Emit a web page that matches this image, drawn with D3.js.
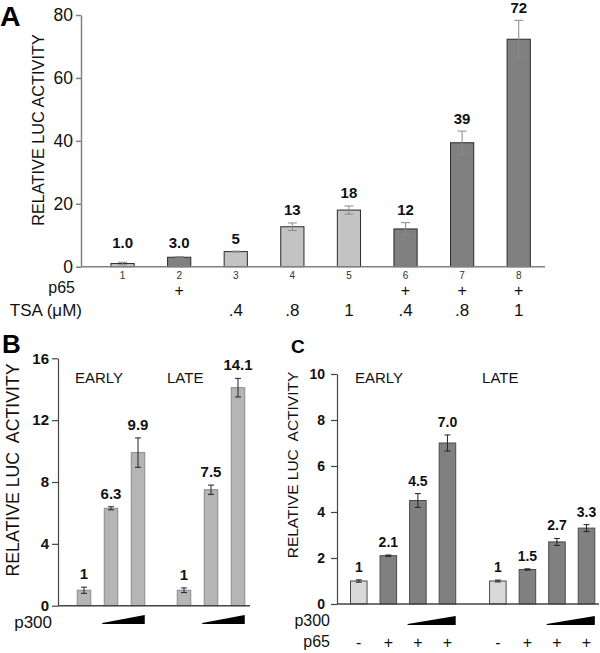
<!DOCTYPE html>
<html>
<head>
<meta charset="utf-8">
<script src="https://cdn.jsdelivr.net/npm/d3@7"></script>
<style>
  body { margin: 0; background: #fff; }
  svg text { font-family: "Liberation Sans", Arial, sans-serif; }
</style>
</head>
<body>
<div class="canvas"></div>
<script>
//------------------------ panel A data
const aCats = ['1', '2', '3', '4', '5', '6', '7', '8'];
const aValues = [1.0, 3.0, 4.8, 12.7, 18.0, 12.0, 39.4, 72.3];
const aErrors = [0.4, 0.2, 0.15, 1.2, 1.3, 2.0, 3.7, 6.0];
const aLabels = ['1.0', '3.0', '5', '13', '18', '12', '39', '72'];
const aP65 = ['', '+', '', '', '', '+', '+', '+'];
const aTSA = ['', '', '.4', '.8', '1', '.4', '.8', '1'];
const aTicks = [0, 20, 40, 60, 80];

//------------------------ panel B data
const groups = ['EARLY', 'LATE'];
const bGroup = ['EARLY', 'EARLY', 'EARLY', 'LATE', 'LATE', 'LATE'];
const bValues = [1, 6.3, 9.9, 1, 7.5, 14.1];
const bErrors = [0.2, 0.1, 0.95, 0.15, 0.3, 0.6];
const bLabels = ['1', '6.3', '9.9', '1', '7.5', '14.1'];
const bP300 = [0, 1, 2, 0, 1, 2];
const bTicks = [0, 4, 8, 12, 16];

//------------------------ panel C data
const cGroup = ['EARLY', 'EARLY', 'EARLY', 'EARLY', 'LATE', 'LATE', 'LATE', 'LATE'];
const cValues = [1, 2.1, 4.5, 7.0, 1, 1.5, 2.7, 3.3];
const cErrors = [0.05, 0.03, 0.3, 0.35, 0.04, 0.03, 0.15, 0.15];
const cLabels = ['1', '2.1', '4.5', '7.0', '1', '1.5', '2.7', '3.3'];
const cP300 = [0, 0, 1, 2, 0, 0, 1, 2];
const cP65 = ['-', '+', '+', '+', '-', '+', '+', '+'];
const cTicks = [0, 2, 4, 6, 8, 10];

const numFont = '"Noto Sans", "Open Sans", sans-serif';

//------------------------ svg container
const svg = d3.select('.canvas')
  .append('svg')
  .attr('width', 600)
  .attr('height', 653);

// small helper: error bar with caps
const errorBar = (g, cx, yTop, yBot, cap, color, w) => {
  g.append('line').attr('x1', cx).attr('x2', cx).attr('y1', yTop).attr('y2', yBot)
    .attr('stroke', color).attr('stroke-width', w);
  [yTop, yBot].forEach(yy => {
    g.append('line').attr('x1', cx - cap / 2).attr('x2', cx + cap / 2).attr('y1', yy).attr('y2', yy)
      .attr('stroke', color).attr('stroke-width', w);
  });
};

// y axis helper
const yAxis = (y, ticks, x0, opts) => {
  const g = svg.append('g')
    .attr('transform', `translate(${x0},0)`)
    .call(d3.axisLeft(y).tickValues(ticks).tickSize(opts.tickSize).tickSizeOuter(0).tickPadding(opts.pad));
  g.select('.domain').attr('stroke', opts.color).attr('stroke-width', opts.width);
  g.selectAll('.tick line').attr('stroke', opts.color).attr('stroke-width', opts.width);
  g.selectAll('.tick text')
    .attr('font-family', numFont)
    .attr('font-size', opts.fontSize)
    .attr('font-weight', opts.weight)
    .attr('fill', '#111');
  return g;
};

const yTitle = (text, cx, cy, size) => {
  svg.append('text')
    .attr('transform', `translate(${cx},${cy}) rotate(-90)`)
    .attr('text-anchor', 'middle')
    .attr('dy', '0.35em')
    .attr('font-size', size)
    .attr('fill', '#111')
    .style('white-space', 'pre')
    .text(text);
};

//################################-------- PANEL A --------################################//
const yA = d3.scaleLinear().domain([0, 80]).range([266.7, 15]);
const xA = d3.scaleBand().domain(aCats).range([94, 547.3]).paddingInner(0.59).paddingOuter(0.3);

svg.append('text').attr('x', 0).attr('y', 26).attr('font-size', 28.5).attr('font-weight', 'bold').text('A');

yAxis(yA, aTicks, 81, { tickSize: 5, pad: 3, color: '#808080', width: 1.5, fontSize: 17.5, weight: 'normal' });
yTitle('RELATIVE LUC ACTIVITY', 38, 130, 16.3);

const gA = svg.append('g');
aCats.forEach((c, i) => {
  const x = xA(c), w = xA.bandwidth(), cx = x + w / 2;
  gA.append('rect')
    .attr('x', x).attr('y', yA(aValues[i]))
    .attr('width', w).attr('height', yA(0) - yA(aValues[i]))
    .attr('fill', aP65[i] === '+' ? '#808080' : '#c3c3c3')
    .attr('stroke', '#2a2a2a').attr('stroke-width', 1);
  errorBar(gA, cx, yA(aValues[i] + aErrors[i]), yA(aValues[i] - aErrors[i]), 9, '#8a8a8a', 1);
  gA.append('text')
    .attr('x', cx).attr('y', Math.min(yA(aValues[i] + aErrors[i]) - 7.5, 248))
    .attr('text-anchor', 'middle').attr('font-family', numFont)
    .attr('font-size', 15).attr('font-weight', 'bold').attr('fill', '#111')
    .text(aLabels[i]);
  // lane numbers under the axis
  gA.append('text').attr('x', cx).attr('y', 278.5).attr('text-anchor', 'middle')
    .attr('font-family', numFont).attr('font-size', 10).attr('fill', '#333').text(c);
  gA.append('text').attr('x', cx).attr('y', 296).attr('text-anchor', 'middle')
    .attr('font-size', 16).attr('fill', '#111').text(aP65[i]);
  gA.append('text').attr('x', cx).attr('y', 315.5).attr('text-anchor', 'middle')
    .attr('font-size', 17).attr('fill', '#111').text(aTSA[i]);
});
// baseline
svg.append('line').attr('x1', 81).attr('x2', 545).attr('y1', yA(0)).attr('y2', yA(0))
  .attr('stroke', '#808080').attr('stroke-width', 1.5);

svg.append('text').attr('x', 75).attr('y', 293).attr('text-anchor', 'end')
  .attr('font-size', 16).attr('fill', '#111').text('p65');
svg.append('text').attr('x', 82).attr('y', 315.5).attr('text-anchor', 'end')
  .attr('font-size', 17).attr('fill', '#111').text('TSA (\u03bcM)');

//################################-------- grouped panels B / C --------################################//
const drawGrouped = (cfg) => {
  const y = d3.scaleLinear().domain(cfg.domain).range(cfg.yRange);
  const outer = d3.scaleBand().domain(groups).range(cfg.xRange).paddingInner(cfg.groupPad).paddingOuter(0);
  const nPer = cfg.values.length / groups.length;
  const inner = d3.scaleBand().domain(d3.range(nPer)).range([0, outer.bandwidth()])
    .paddingInner(cfg.barPad).paddingOuter(cfg.barPad / 2);

  // index of each bar within its group
  const idx = cfg.group.map((g, i) => cfg.group.slice(0, i).filter(v => v === g).length);
  const barX = i => outer(cfg.group[i]) + inner(idx[i]);
  const bw = inner.bandwidth();

  svg.append('text').attr('x', cfg.letterX).attr('y', 353).attr('font-size', cfg.letterSize)
    .attr('font-weight', 'bold').text(cfg.letter);

  yAxis(y, cfg.ticks, cfg.axisX, { tickSize: 6, pad: cfg.tickPad, color: '#444', width: 1.2, fontSize: cfg.tickFont, weight: 'bold' });
  yTitle('RELATIVE LUC  ACTIVITY', cfg.titleX, cfg.titleY, cfg.titleSize);

  const g = svg.append('g');
  cfg.values.forEach((v, i) => {
    const x = barX(i), cx = x + bw / 2;
    g.append('rect')
      .attr('x', x).attr('y', y(v))
      .attr('width', bw).attr('height', y(0) - y(v))
      .attr('fill', cfg.fill(i))
      .attr('stroke', cfg.stroke).attr('stroke-width', 1);
    errorBar(g, cx, y(v + cfg.errors[i]), y(v - cfg.errors[i]), 6, '#222', 1);
    g.append('text')
      .attr('x', cx).attr('y', y(v + cfg.errors[i]) - 8)
      .attr('text-anchor', 'middle').attr('font-family', numFont)
      .attr('font-size', cfg.valFont).attr('font-weight', 'bold').attr('fill', '#111')
      .text(cfg.labels[i]);
  });

  // baseline
  svg.append('line').attr('x1', cfg.axisX).attr('x2', cfg.baseEnd).attr('y1', y(0)).attr('y2', y(0))
    .attr('stroke', '#444').attr('stroke-width', 1.5);

  // group titles
  groups.forEach((grp, k) => {
    svg.append('text').attr('x', outer(grp) + cfg.groupShift[k]).attr('y', 383)
      .attr('font-size', 15).attr('fill', '#111').text(grp);
  });

  // p300 wedges
  groups.forEach(grp => {
    const ids = cfg.p300.map((p, i) => i).filter(i => cfg.group[i] === grp && cfg.p300[i] > 0);
    const x0 = barX(ids[0]) - 2;
    const x1 = barX(ids[ids.length - 1]) + bw;
    const yb = cfg.wedgeY;
    svg.append('polygon')
      .attr('points', [[x0, yb], [x0, yb - 1], [x1, yb - 9], [x1, yb]].map(p => p.join(',')).join(' '))
      .attr('fill', '#000');
  });
  svg.append('text').attr('x', cfg.rowLabelX).attr('y', cfg.p300Y).attr('text-anchor', 'end')
    .attr('font-size', cfg.rowFont).attr('fill', '#111').text('p300');

  if (cfg.p65) {
    cfg.p65.forEach((s, i) => {
      svg.append('text').attr('x', barX(i) + bw / 2).attr('y', 648).attr('text-anchor', 'middle')
        .attr('font-size', 16).attr('fill', '#111').text(s);
    });
    svg.append('text').attr('x', cfg.rowLabelX).attr('y', 647).attr('text-anchor', 'end')
      .attr('font-size', cfg.rowFont).attr('fill', '#111').text('p65');
  }
};

// ------------------------ panel B
drawGrouped({
  letter: 'B', letterX: 2, letterSize: 26,
  domain: [0, 16], yRange: [605.7, 358.3], ticks: bTicks,
  xRange: [70.5, 251.5], groupPad: 0.19, barPad: 0.5,
  axisX: 58, baseEnd: 250, tickPad: 3, tickFont: 15, valFont: 15,
  titleX: 13, titleY: 470, titleSize: 17.7,
  group: bGroup, values: bValues, errors: bErrors, labels: bLabels, p300: bP300,
  fill: () => '#b5b5b5', stroke: '#8a8a8a',
  groupShift: [4.5, -3.5], wedgeY: 624, p300Y: 628, rowLabelX: 52, rowFont: 17
});

// ------------------------ panel C
drawGrouped({
  letter: 'C', letterX: 291, letterSize: 19,
  domain: [0, 10], yRange: [604, 374], ticks: cTicks,
  xRange: [344, 601.3], groupPad: 0.15, barPad: 0.44,
  axisX: 337, baseEnd: 599, tickPad: 6, tickFont: 14, valFont: 14,
  titleX: 293, titleY: 465, titleSize: 15.5,
  group: cGroup, values: cValues, errors: cErrors, labels: cLabels, p300: cP300, p65: cP65,
  fill: i => cP65[i] === '-' ? '#d9d9d9' : '#808080', stroke: '#4a4a4a',
  groupShift: [11, -1], wedgeY: 625, p300Y: 626, rowLabelX: 330, rowFont: 16
});
</script>
</body>
</html>
